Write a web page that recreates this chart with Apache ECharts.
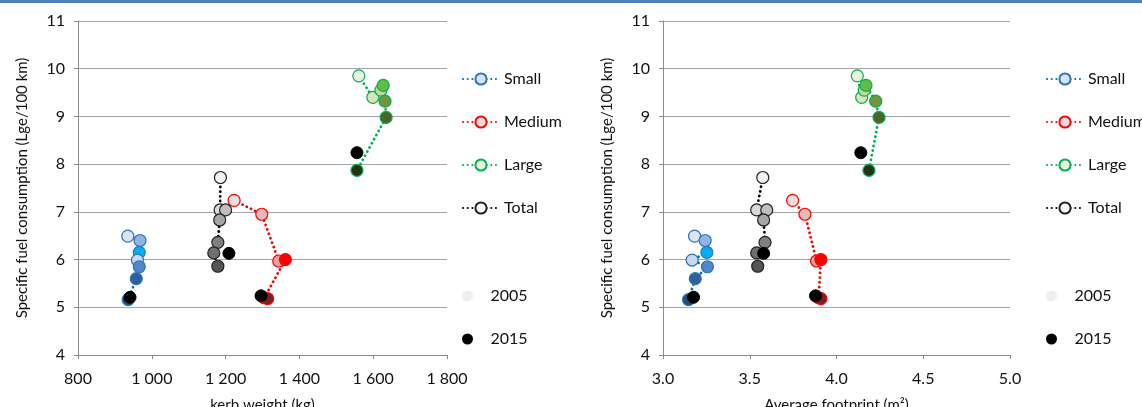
<!DOCTYPE html>
<html><head><meta charset="utf-8">
<script src="https://cdn.jsdelivr.net/npm/echarts@6/dist/echarts.min.js"></script>
<style>html,body{margin:0;padding:0;background:#fff}#c{width:1142px;height:407px}</style>
</head><body><div id="c"></div>
<script>
// ---------- DATA ----------
const categories = ['Small', 'Medium', 'Large', 'Total'];
const yearLabels = ['2005', '2015'];
const fuelTicks = [4, 5, 6, 7, 8, 9, 10, 11];
const kerbTicks = [800, 1000, 1200, 1400, 1600, 1800];
const footprintTicks = [3.0, 3.5, 4.0, 4.5, 5.0];

// specific fuel consumption (Lge/100 km), same points in both panels
const smallFuel  = [6.49, 6.40, 6.15, 5.99, 5.85, 5.60, 5.16];
const mediumFuel = [7.24, 6.95, 5.97, 6.00, 5.20, 5.18];
const largeFuel  = [9.85, 9.40, 9.55, 9.65, 9.32, 8.98, 7.87];
const totalFuel  = [7.72, 7.04, 7.04, 6.83, 6.36, 6.14, 5.86];

// kerb weight (kg)
const smallKerb  = [935, 968, 966, 961, 966, 958, 936];
const mediumKerb = [1223, 1298, 1344, 1362, 1305, 1314];
const largeKerb  = [1561, 1599, 1621, 1627, 1632, 1635, 1556];
const totalKerb  = [1186, 1185, 1200, 1184, 1179, 1168, 1179];

// average footprint (m²)
const smallFoot  = [3.182, 3.243, 3.253, 3.168, 3.256, 3.186, 3.147];
const mediumFoot = [3.747, 3.818, 3.885, 3.910, 3.897, 3.910];
const largeFoot  = [4.120, 4.145, 4.160, 4.170, 4.226, 4.245, 4.187];
const totalFoot  = [3.575, 3.540, 3.598, 3.580, 3.588, 3.540, 3.546];

// year markers: Small, Medium, Large, Total
const fuel2005 = [6.49, 7.24, 9.85, 7.72];
const kerb2005 = [935, 1223, 1561, 1186];
const foot2005 = [3.182, 3.747, 4.120, 3.575];
const fuel2015 = [5.21, 5.24, 8.24, 6.13];
const kerb2015 = [941, 1296, 1556, 1209];
const foot2015 = [3.176, 3.879, 4.140, 3.580];

// ---------- STYLE ----------
const FONT = 'Lato';
const FS = 16;
const TXT = '#111';
const catStyle = {
  Small:  {line: '#0070c0', border: '#2e75b6', legend: '#dce6f2',
           shades: ['#dce6f2', '#8eb4e3', '#00b0f0', '#c5d9f1', '#4f87c8', '#2f5f9e', '#1f4e79']},
  Medium: {line: '#ff0000', border: '#ff0000', legend: '#f2dcdb',
           shades: ['#f2dcdb', '#e6b9b8', '#e6a0a0', '#ff0000', '#c00000', '#7b2020']},
  Large:  {line: '#00b050', border: '#00b050', legend: '#ebf1de',
           shades: ['#ebf1de', '#d8e4bc', '#c3d69b', '#66bb44', '#77933c', '#4f6228', '#263316']},
  Total:  {line: '#000000', border: '#222222', legend: '#ffffff',
           shades: ['#f2f2f2', '#d9d9d9', '#bfbfbf', '#a6a6a6', '#808080', '#6f6f6f', '#555555']}
};
const fuelByCat = {Small: smallFuel, Medium: mediumFuel, Large: largeFuel, Total: totalFuel};
const kerbByCat = {Small: smallKerb, Medium: mediumKerb, Large: largeKerb, Total: totalKerb};
const footByCat = {Small: smallFoot, Medium: mediumFoot, Large: largeFoot, Total: totalFoot};

function thousands(v) { return String(v).replace(/\B(?=(\d{3})+(?!\d))/g, ' '); }

function catSeries(cat, xs, idx) {
  const st = catStyle[cat];
  const ys = fuelByCat[cat];
  return {
    name: cat, type: 'line', xAxisIndex: idx, yAxisIndex: idx,
    symbol: 'circle', symbolSize: 12, showSymbol: true, z: 3,
    lineStyle: {color: st.line, width: 2.8, type: [0.1, 4.6], cap: 'round'},
    itemStyle: {color: st.legend, borderColor: st.border, borderWidth: 1.2, opacity: 1},
    data: xs.map((x, i) => ({value: [x, ys[i]], itemStyle: {color: st.shades[i]}})),
    emphasis: {disabled: true}, animation: false
  };
}
function yearSeries(name, xs, ys, idx, color, z) {
  return {
    name: name, type: 'scatter', xAxisIndex: idx, yAxisIndex: idx, z: z,
    symbol: 'circle', symbolSize: 12,
    itemStyle: {color: color, borderColor: name === '2015' ? '#000' : color, borderWidth: 1, opacity: 1},
    data: xs.map((x, i) => [x, ys[i]]),
    emphasis: {disabled: true}, animation: false
  };
}

const series = [];
series.push(yearSeries('2005', kerb2005, fuel2005, 0, '#eeeeee', 1));
series.push(yearSeries('2005', foot2005, fuel2005, 1, '#eeeeee', 1));
categories.forEach(c => series.push(catSeries(c, kerbByCat[c], 0)));
categories.forEach(c => series.push(catSeries(c, footByCat[c], 1)));
series.push(yearSeries('2015', kerb2015, fuel2015, 0, '#000000', 4));
series.push(yearSeries('2015', foot2015, fuel2015, 1, '#000000', 4));

function yAxis(gi, gap) {
  return {
    type: 'value', gridIndex: gi,
    min: fuelTicks[0], max: fuelTicks[fuelTicks.length - 1], interval: fuelTicks[1] - fuelTicks[0],
    name: 'Specific fuel consumption (Lge/100 km)', nameLocation: 'middle', nameGap: gap,
    nameTextStyle: {fontFamily: FONT, fontSize: FS - 1, color: TXT},
    axisLine: {show: true, lineStyle: {color: '#8c8c8c', width: 1}},
    axisTick: {show: true, length: 4, lineStyle: {color: '#8c8c8c'}},
    axisLabel: {fontFamily: FONT, fontSize: FS, color: TXT, margin: 13},
    splitLine: {show: true, lineStyle: {color: '#a6a6a6', width: 1}}
  };
}
function xAxis(gi, ticks, name, fmt) {
  return {
    type: 'value', gridIndex: gi,
    min: ticks[0], max: ticks[ticks.length - 1], interval: ticks[1] - ticks[0],
    name: name, nameLocation: 'middle', nameGap: 43,
    nameTextStyle: {fontFamily: FONT, fontSize: FS - 1, color: TXT},
    axisLine: {show: true, onZero: false, lineStyle: {color: '#8c8c8c', width: 1}},
    axisTick: {show: true, length: 4, lineStyle: {color: '#8c8c8c'}},
    axisLabel: {fontFamily: FONT, fontSize: FS, color: TXT, margin: 16, formatter: fmt},
    splitLine: {show: false}
  };
}
function legends(left) {
  return [
    {data: categories, orient: 'vertical', left: left, top: 66, itemWidth: 36, itemHeight: 14, itemGap: 27,
     selectedMode: false, textStyle: {fontFamily: FONT, fontSize: FS, color: TXT}},
    {data: yearLabels, orient: 'vertical', left: left, top: 283, itemWidth: 36, itemHeight: 9, itemGap: 27,
     selectedMode: false, textStyle: {fontFamily: FONT, fontSize: FS, color: TXT}}
  ];
}

const chart = echarts.init(document.getElementById('c'), null, {renderer: 'canvas'});
chart.setOption({
  animation: false,
  backgroundColor: '#ffffff',
  graphic: [{type: 'rect', left: 0, top: 0, shape: {width: 1142, height: 3}, style: {fill: '#4f81bd'}}],
  grid: [
    {left: 78, top: 21, width: 369, height: 334, outerBoundsMode: 'none', containLabel: false},
    {left: 663, top: 21, width: 347, height: 334, outerBoundsMode: 'none', containLabel: false}
  ],
  xAxis: [
    xAxis(0, kerbTicks, 'kerb weight (kg)', v => thousands(v)),
    xAxis(1, footprintTicks, 'Average footprint (m²)', v => v.toFixed(1))
  ],
  yAxis: [yAxis(0, 48), yAxis(1, 48)],
  legend: legends(457).concat(legends(1041)),
  tooltip: {show: false},
  series: series
});
</script></body></html>
